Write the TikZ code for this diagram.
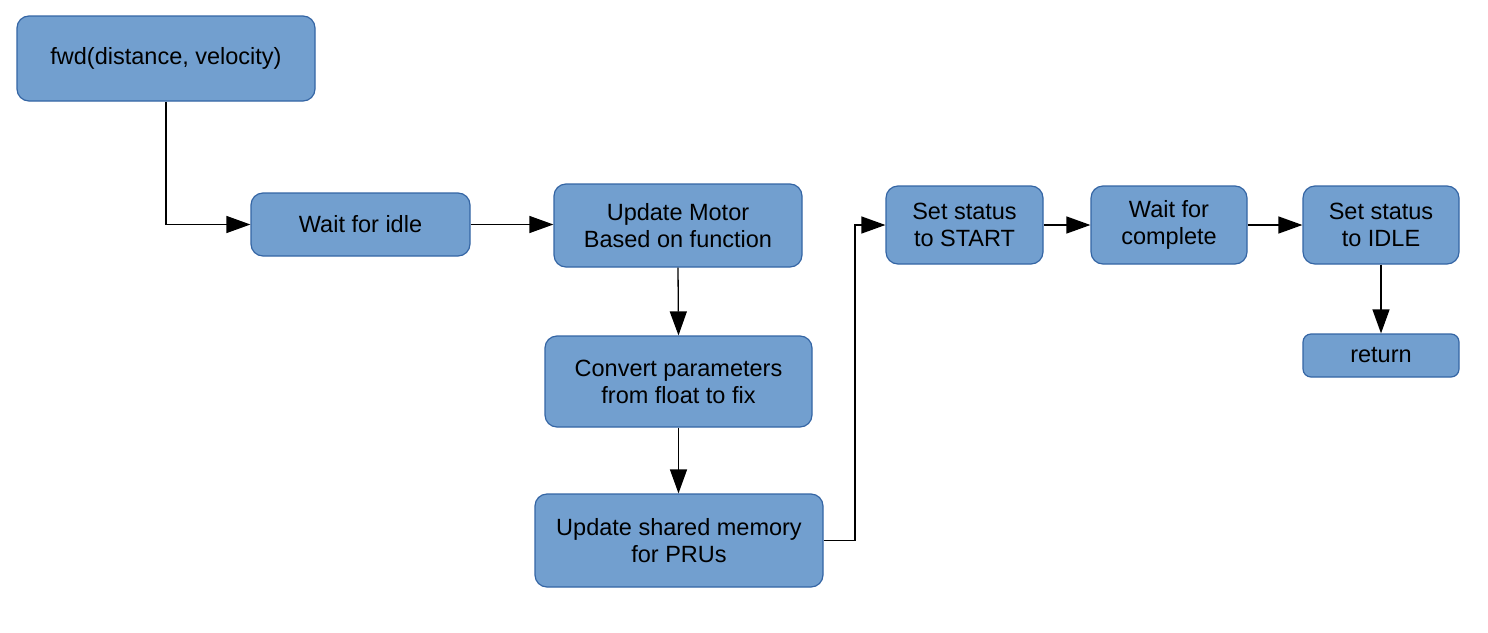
\documentclass[tikz,border=0pt]{standalone}
\usepackage{fontspec}
\setmainfont{Liberation Sans}
\usetikzlibrary{arrows.meta}
\definecolor{boxfill}{HTML}{729FCF}
\definecolor{boxline}{HTML}{3465A4}
\begin{document}
\begin{tikzpicture}[x=1pt,y=-1pt,
  blk/.style={draw=boxline,fill=boxfill,line width=1.2pt,rounded corners=12pt,
    align=center,inner sep=0pt,font=\fontsize{23.5}{27}\selectfont},
  arr/.style={draw=black,line width=1.3pt,-{Triangle[length=24pt,width=17pt]}}]
\useasboundingbox (0,0) rectangle (1488,632);
\node[blk,minimum width=298pt,minimum height=85pt] (fwd) at (166,58.5) {fwd(distance, velocity)};
\node[blk,minimum width=219pt,minimum height=63pt] (wait) at (360.5,224.5) {Wait for idle};
\node[blk,minimum width=248pt,minimum height=83pt] (motor) at (678,225.5) {Update Motor\\Based on function};
\node[blk,minimum width=267pt,minimum height=91pt] (convert) at (678.5,381.5) {Convert parameters\\from float to fix};
\node[blk,minimum width=288pt,minimum height=93pt] (shared) at (679,540.5) {Update shared memory\\for PRUs};
\node[blk,minimum width=157pt,minimum height=78pt] (start) at (964.5,225) {Set status\\to START};
\node[blk,minimum width=156pt,minimum height=78pt] (complete) at (1169,225) {Wait for\\complete};
\node[blk,minimum width=156pt,minimum height=78pt] (idle) at (1381,225) {Set status\\to IDLE};
\node[blk,rounded corners=8pt,minimum width=156pt,minimum height=43pt] (ret) at (1381,355.5) {return};
\coordinate (j) at (855,540.5);
\draw[arr] (fwd.south) |- (wait.west);
\draw[arr] (wait.east) -- (wait.east -| motor.west);
\draw[arr] (motor.south) -- (convert.north);
\draw[arr] (convert.south) -- (convert.south |- shared.north);
\draw[arr] (shared.east) -- (j) |- (start.west);
\draw[arr] (start.east) -- (complete.west);
\draw[arr] (complete.east) -- (idle.west);
\draw[arr] (idle.south) -- (ret.north);
\end{tikzpicture}
\end{document}
